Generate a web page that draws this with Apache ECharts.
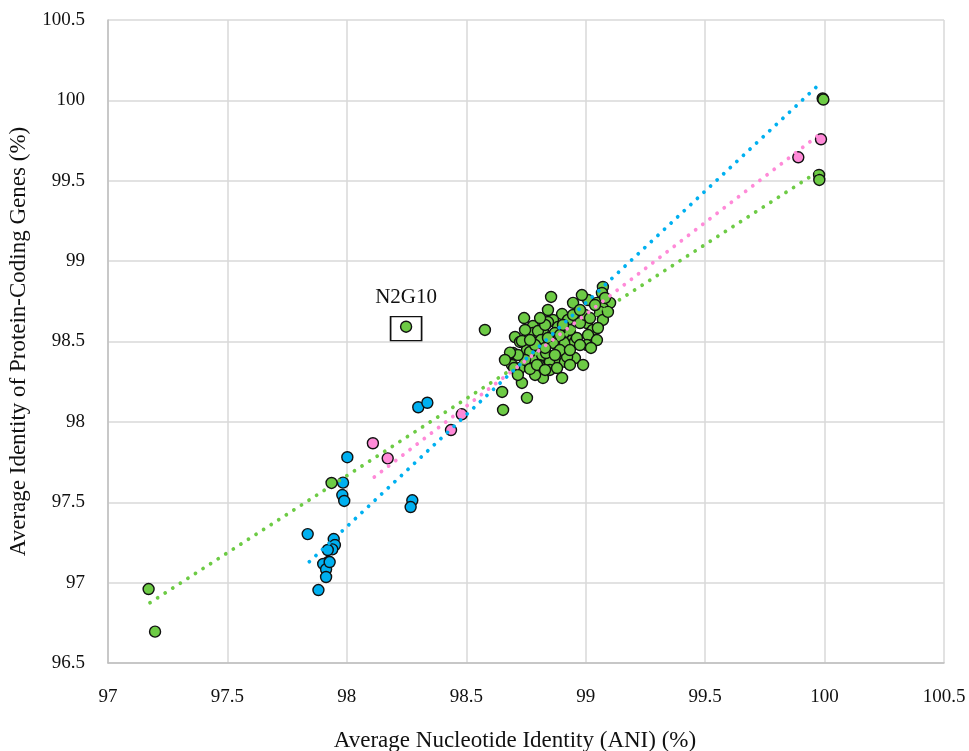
<!DOCTYPE html>
<html>
<head>
<meta charset="utf-8">
<script src="https://cdn.jsdelivr.net/npm/echarts@6/dist/echarts.min.js"></script>
<style>
  html, body { margin: 0; padding: 0; background: #fff; }
  #chart { width: 969px; height: 751px; }
</style>
</head>
<body>
<div id="chart"></div>
<script>
// ANI (x) vs average protein-coding gene identity (y)
const blueAni = [98.299, 98.337, 98.002, 97.984, 97.981, 97.989, 98.274, 98.267, 97.836, 97.945,
  97.950, 97.939, 97.920, 97.924, 97.901, 97.913, 97.913, 97.881, 97.928]
const blueAai = [98.091, 98.119, 97.780, 97.622, 97.545, 97.508, 97.512, 97.470, 97.302, 97.271,
  97.234, 97.207, 97.203, 97.130, 97.116, 97.083, 97.035, 96.954, 97.128]

const pinkAni = [98.109, 98.171, 98.436, 98.481, 99.890, 99.985, 98.767, 98.813]
const pinkAai = [97.867, 97.773, 97.949, 98.047, 99.646, 99.758, 98.447, 98.342]

const greenAni = [97.936, 97.170, 97.197, 99.992, 99.995, 99.977, 99.978,
  98.855, 98.742, 98.578, 98.779, 98.901, 98.863, 98.779, 98.821, 98.704, 98.884,
  98.926, 99.072, 99.068, 98.947, 99.010, 99.047, 99.102, 99.072, 98.725, 98.800,
  98.880, 98.913, 98.696, 98.754, 98.779, 98.817, 98.850, 98.892, 98.691, 98.725,
  98.767, 98.804, 98.733, 98.821, 98.901, 98.650, 98.754, 98.654, 98.947, 99.060,
  99.005, 99.072, 99.030, 98.947, 98.913, 99.010, 98.955, 99.005, 99.047, 98.913,
  98.955, 98.913, 99.022, 98.989, 98.834, 98.922, 98.963, 98.976, 98.863, 98.813,
  98.767, 99.051, 98.842, 98.997, 98.830, 98.871, 98.892, 98.934, 98.976, 98.850,
  98.788, 98.746, 98.716,
  98.733, 98.683, 98.700, 98.767, 98.830, 98.892, 98.842, 98.788, 98.871, 98.934,
  98.976, 99.018, 99.039, 98.796, 98.830, 98.880, 98.662, 98.716, 98.767, 98.842,
  98.809, 98.934, 99.081, 99.093, 98.984, 98.905, 98.746]
const greenAai = [97.620, 96.960, 96.695, 100.012, 100.005, 99.536, 99.505,
  98.777, 98.646, 98.572, 98.596, 98.671, 98.634, 98.553, 98.572, 98.528, 98.590,
  98.634, 98.839, 98.802, 98.740, 98.758, 98.740, 98.740, 98.708, 98.497, 98.565,
  98.478, 98.491, 98.428, 98.447, 98.397, 98.416, 98.373, 98.373, 98.354, 98.335,
  98.335, 98.354, 98.242, 98.273, 98.273, 98.186, 98.149, 98.074, 98.665, 98.684,
  98.615, 98.634, 98.572, 98.528, 98.559, 98.540, 98.497, 98.478, 98.509, 98.428,
  98.397, 98.373, 98.460, 98.354, 98.428, 98.404, 98.522, 98.615, 98.491, 98.509,
  98.435, 98.584, 98.621, 98.665, 98.460, 98.553, 98.447, 98.447, 98.478, 98.323,
  98.292, 98.385, 98.416,
  98.503, 98.431, 98.335, 98.329, 98.603, 98.540, 98.522, 98.478, 98.416, 98.572,
  98.696, 98.646, 98.727, 98.354, 98.323, 98.335, 98.385, 98.292, 98.509, 98.696,
  98.646, 98.354, 98.771, 98.684, 98.789, 98.603, 98.572]

// labelled outlier
const n2g10 = [98.248, 98.592]

// linear trend lines (start / end)
const blueTrendAni = [97.843, 99.982]
const blueTrendAai = [97.130, 100.106]
const pinkTrendAni = [98.115, 99.985]
const pinkTrendAai = [97.657, 99.795]
const greenTrendAni = [97.176, 99.992]
const greenTrendAai = [96.875, 99.575]

const BLUE = '#00b0f0'
const PINK = '#ff8ad8'
const GREEN = '#6dcb45'
const FONT = 'Liberation Serif'

const pairs = (xs, ys) => xs.map((x, i) => [x, ys[i]])

const scatter = (name, xs, ys, color) => ({
  name,
  type: 'scatter',
  data: pairs(xs, ys),
  symbolSize: 11,
  itemStyle: { color, borderColor: '#111', borderWidth: 1.4, opacity: 1 },
  emphasis: { disabled: true },
  z: 3
})

const trend = (name, xs, ys, color) => ({
  name,
  type: 'line',
  data: pairs(xs, ys),
  showSymbol: false,
  silent: true,
  lineStyle: { color, width: 3.8, type: [0.01, 9], cap: 'round' },
  emphasis: { disabled: true },
  z: 5
})

const chart = echarts.init(document.getElementById('chart'))

const greenSeries = scatter('green', greenAni.concat([n2g10[0]]), greenAai.concat([n2g10[1]]), GREEN)
greenSeries.markPoint = {
  symbol: 'rect',
  symbolSize: [31, 24],
  silent: true,
  itemStyle: { color: 'rgba(0,0,0,0)', borderColor: '#111', borderWidth: 1.5 },
  label: {
    show: true,
    position: 'top',
    distance: 8,
    formatter: 'N2G10',
    color: '#111',
    fontFamily: FONT,
    fontSize: 21
  },
  data: [{ coord: n2g10, symbolOffset: [0, 2] }]
}

const option = {
  animation: false,
  backgroundColor: '#fff',
  grid: { left: 108, right: 25, top: 20, bottom: 88, containLabel: false, outerBoundsMode: 'none' },
  xAxis: {
    type: 'value',
    min: 97,
    max: 100.5,
    interval: 0.5,
    name: 'Average Nucleotide Identity (ANI) (%)',
    nameLocation: 'middle',
    nameGap: 66,
    nameTextStyle: { fontFamily: FONT, fontSize: 23, color: '#111', padding: [0, 22, 0, 0] },
    axisLine: { show: true, lineStyle: { color: '#bfbfbf', width: 1.5 } },
    axisTick: { show: false },
    axisLabel: { margin: 25, fontFamily: FONT, fontSize: 19, color: '#111' },
    splitLine: { show: true, lineStyle: { color: '#d9d9d9', width: 1.5 } }
  },
  yAxis: {
    type: 'value',
    min: 96.5,
    max: 100.5,
    interval: 0.5,
    name: 'Average Identity of Protein-Coding Genes (%)',
    nameLocation: 'middle',
    nameGap: 78,
    nameTextStyle: { fontFamily: FONT, fontSize: 23, color: '#111' },
    axisLine: { show: true, lineStyle: { color: '#bfbfbf', width: 1.5 } },
    axisTick: { show: false },
    axisLabel: { margin: 23, fontFamily: FONT, fontSize: 19, color: '#111' },
    splitLine: { show: true, lineStyle: { color: '#d9d9d9', width: 1.5 } }
  },
  series: [
    scatter('blue', blueAni, blueAai, BLUE),
    scatter('pink', pinkAni, pinkAai, PINK),
    greenSeries,
    trend('green trend', greenTrendAni, greenTrendAai, GREEN),
    trend('pink trend', pinkTrendAni, pinkTrendAai, PINK),
    trend('blue trend', blueTrendAni, blueTrendAai, BLUE)
  ]
}

chart.setOption(option)
</script>
</body>
</html>
